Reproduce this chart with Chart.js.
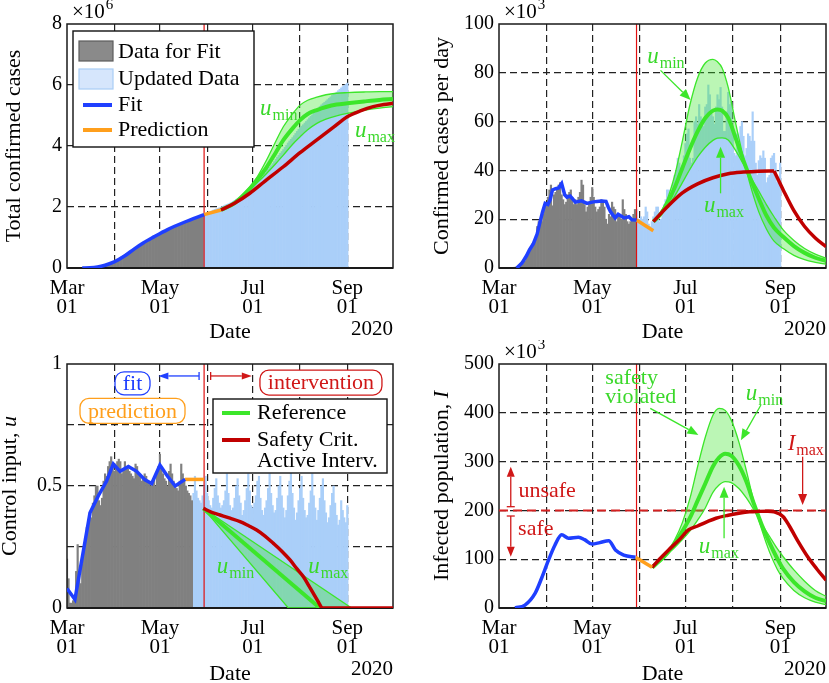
<!DOCTYPE html>
<html>
<head>
<meta charset="utf-8">
<title>Safety-critical intervention</title>
<script src="https://cdn.jsdelivr.net/npm/chart.js@4.4.1/dist/chart.umd.min.js"></script>
<style>
  body { margin: 0; background: #fff; }
  #wrap { position: relative; width: 829px; height: 683px; }
  canvas { position: absolute; }
</style>
</head>
<body>
<div id="wrap">
  <canvas id="totalChart" width="415" height="340" style="left:0;top:0"></canvas>
  <canvas id="dailyChart" width="414" height="340" style="left:415px;top:0"></canvas>
  <canvas id="controlChart" width="415" height="343" style="left:0;top:340px"></canvas>
  <canvas id="infectedChart" width="414" height="343" style="left:415px;top:340px"></canvas>
</div>
<script>
const FONT = "'Liberation Serif', 'Times New Roman', serif";
Chart.defaults.font.family = FONT;
Chart.defaults.color = '#000';

const GREEN = '#3ce62a';
const GREEN_TXT = '#3ad82a';
const GREEN_FILL = 'rgba(60, 230, 42, 0.35)';
const RED = '#c00000';
const RED_TXT = '#d01818';
const BLUE = '#1f3fff';
const ORANGE = '#ff9f1c';
const GRAY_BAR = '#808080';
const BLUE_BAR = '#aacff9';

// ---- data ----
// x axis = days after 2020-03-01
const monthStarts = [0, 31, 61, 92, 122, 153, 184];
const monthNames = ['Mar', 'Apr', 'May', 'Jun', 'Jul', 'Aug', 'Sep'];
const labelledMonths = ['Mar', 'May', 'Jul', 'Sep'];
const fitEndDay = 90;         // data for fit ends May 30
const controlFitEndDay = 83;  // control input data for fit ends May 23

// confirmed cases per day (x10^3), Mar 01 .. Sep 01
const dailyCases = [
  0, 0, 0, 0, 0, 0, 0.1, 0.1, 0.1, 0.2,
  0.3, 0.4, 0.5, 0.8, 1.0, 1.3, 1.8, 2.8,
  4.5, 5.6, 6.9, 8.0, 10.0, 11.0, 12.0, 17.0, 19.0, 19.5, 19.0, 22.0, 26.0,
  26.5, 29, 32, 34, 25.5, 30, 31, 32, 34, 35, 30, 28, 26, 27, 30,
  31, 32, 29, 26, 28, 26, 29, 31, 36, 34, 26, 23, 25, 27, 29,
  33, 29, 25, 23, 24, 25, 28, 27, 25, 20, 18, 22, 21, 27, 25,
  24, 19, 22, 21, 20, 28, 24, 22, 19, 18, 19, 20, 22, 24, 24,
  20, 20, 21, 20, 21, 25, 23, 18, 17, 19, 21, 23, 25, 25, 19, 20,
  23, 26, 28, 32, 32, 26, 30, 35, 38, 40, 45, 43, 41, 40, 46,
  51, 55, 57, 45, 43, 45, 60, 62, 59, 67, 62, 59, 58, 66, 67, 75,
  71, 63, 62, 59, 66, 71, 69, 74, 66, 56, 56, 64, 72, 67, 68,
  58, 47, 46, 55, 52, 58, 60, 54, 46, 49, 55, 54, 52, 64, 52, 43,
  38, 44, 46, 45, 48, 45, 35, 37, 38, 45, 46, 47, 43, 35, 35, 43
];

// control input u, Mar 01 .. Sep 01
const controlInput = [
  0.20, 0.12, 0.02, 0.02, 0.03, 0.05, 0.15,
  0.26, 0.13, 0.10, 0.18, 0.24, 0.28, 0.33,
  0.36, 0.39, 0.37, 0.43, 0.46, 0.50, 0.50,
  0.44, 0.42, 0.45, 0.52, 0.55, 0.54, 0.58,
  0.60, 0.62, 0.58, 0.56, 0.58, 0.60, 0.61,
  0.60, 0.55, 0.56, 0.60, 0.58, 0.57, 0.56,
  0.55, 0.54, 0.53, 0.59, 0.58, 0.55, 0.54,
  0.52, 0.53, 0.55, 0.54, 0.52, 0.51, 0.50,
  0.52, 0.53, 0.50, 0.55, 0.58, 0.63, 0.57,
  0.55, 0.53, 0.52, 0.50, 0.56, 0.59, 0.55,
  0.52, 0.50, 0.49, 0.48, 0.52, 0.59, 0.55,
  0.53, 0.50, 0.48, 0.47, 0.46, 0.44,
  0.47, 0.54, 0.48, 0.45, 0.44, 0.43, 0.46,
  0.50, 0.54, 0.47, 0.44, 0.42, 0.41, 0.45,
  0.49, 0.53, 0.46, 0.43, 0.41, 0.42, 0.44,
  0.48, 0.55, 0.47, 0.42, 0.40, 0.41, 0.45,
  0.50, 0.53, 0.46, 0.43, 0.38, 0.40, 0.44,
  0.49, 0.55, 0.48, 0.42, 0.41, 0.43, 0.46,
  0.52, 0.54, 0.45, 0.40, 0.38, 0.41, 0.44,
  0.49, 0.55, 0.47, 0.42, 0.39, 0.40, 0.45,
  0.50, 0.54, 0.46, 0.41, 0.37, 0.40, 0.46,
  0.52, 0.56, 0.47, 0.41, 0.36, 0.39, 0.44,
  0.49, 0.54, 0.45, 0.40, 0.37, 0.38, 0.43,
  0.48, 0.55, 0.46, 0.41, 0.36, 0.40, 0.45,
  0.50, 0.53, 0.44, 0.39, 0.35, 0.37, 0.42,
  0.47, 0.50, 0.43, 0.38, 0.34, 0.36, 0.44,
  0.40, 0.37, 0.35, 0.42
];

// panel 1: total confirmed cases (x10^6)
const totalFitDays = [10, 15, 20, 25, 31, 38, 44, 50, 57, 66, 77, 90];
const totalFit = [0, 0.005, 0.03, 0.09, 0.2, 0.4, 0.62, 0.82, 1.02, 1.26, 1.5, 1.75];
const totalPredDays = [90, 101];
const totalPred = [1.75, 1.9];
const totalRefDays = [101, 110, 120, 125, 131, 137, 142, 148, 153, 158, 164, 170, 177, 184, 195, 205, 214];
const totalUmin = [1.90, 2.15, 2.66, 3.0, 3.54, 4.15, 4.63, 5.05, 5.34, 5.5, 5.6, 5.68, 5.73, 5.75, 5.77, 5.78, 5.78];
const totalRef = [1.90, 2.13, 2.60, 2.9, 3.3, 3.78, 4.19, 4.57, 4.85, 5.05, 5.18, 5.28, 5.36, 5.40, 5.46, 5.51, 5.54];
const totalUmax = [1.90, 2.12, 2.56, 2.8, 3.1, 3.42, 3.70, 4.05, 4.30, 4.53, 4.74, 4.88, 4.99, 5.07, 5.17, 5.24, 5.29];
const totalSafeDays = [101, 110, 120, 130, 142, 153, 164, 175, 184, 193, 201, 208, 214];
const totalSafe = [1.90, 2.12, 2.45, 2.85, 3.32, 3.78, 4.20, 4.62, 4.96, 5.16, 5.29, 5.36, 5.40];

// panel 2: confirmed cases per day (x10^3)
const casesFitDays = [11.6, 15, 18, 20, 22.5, 25, 26.9, 28.5, 30.2, 32, 33.5, 35, 37, 39, 41, 43, 44.5,
  46.6, 50, 54, 57.6, 61, 64, 67, 70, 71.5, 73, 76, 78, 82, 85, 87, 90];
const casesFit = [0, 2, 5, 7.5, 10, 14, 19, 23, 26.5, 26, 28, 32, 32.5, 32.8, 34.6, 30, 29,
  29.5, 27, 27.5, 26.5, 27, 27.3, 27.5, 27.3, 25, 23, 20.5, 22, 20.5, 21, 19.8, 19.7];
const casesPredDays = [90, 101];
const casesPred = [19.7, 15.3];
const casesRefDays = [101, 105, 110, 115, 120, 125, 130, 135, 140, 143, 146, 150, 155, 160, 164, 170, 175, 180, 186, 193, 200, 207, 214];
const casesUmin = [19, 22, 28, 38, 52, 67, 78, 84, 85.5, 84.5, 82, 74, 59, 45, 35, 23, 16, 11, 8, 5.2, 3.4, 2.3, 1.5];
const casesRef = [19, 21.5, 26.5, 33, 41, 49, 56, 61.5, 64.5, 65, 64.5, 61.5, 53, 44, 37.5, 28.5, 21.5, 16.5, 12.8, 9, 6.2, 4.2, 2.9];
const casesUmax = [19, 21, 25, 29.5, 35, 40.5, 45.5, 49.5, 52.3, 53.2, 53.3, 52.5, 48, 42.5, 38, 31.5, 26, 21, 15.6, 11.3, 8, 5.7, 4];
const casesSafeDays = [101, 110, 120, 130, 140, 150, 160, 170, 180, 186, 193, 200, 207, 214];
const casesSafe = [19, 25, 30.8, 34.5, 37, 38.6, 39.3, 39.7, 39.8, 32, 23.5, 17, 12.3, 8.7];
const casesSafeKink = 8; // index where active intervention is released

// panel 3: control input u
const ctrlFitDays = [0, 5.2, 15.1, 20.6, 26, 30.4, 34.8, 40.3, 45.7, 51.2, 55.6, 61, 66, 71, 77.5];
const ctrlFit = [0.08, 0.035, 0.39, 0.46, 0.52, 0.59, 0.56, 0.58, 0.56, 0.525, 0.51, 0.586, 0.54, 0.50, 0.527];
const ctrlPredDays = [77.5, 90];
const ctrlPred = [0.527, 0.527];
const ctrlUminDays = [89.5, 145.3, 186.8];
const ctrlUmin = [0.408, 0, 0];
const ctrlUmaxDays = [89.5, 186.8];
const ctrlUmax = [0.408, 0];
const ctrlRefDays = [89.5, 166];
const ctrlRef = [0.408, 0];
const ctrlSafeDays = [89.5, 95, 100.5, 107, 113.6, 119, 124.5, 130, 135.5, 141, 146.4, 151, 155.2, 158.5, 161.7, 164.5, 167.2];
const ctrlSafe = [0.408, 0.392, 0.381, 0.368, 0.354, 0.338, 0.32, 0.295, 0.265, 0.233, 0.197, 0.16, 0.128, 0.094, 0.06, 0.03, 0];
const ctrlOffDays = [167.2, 214];
const ctrlOff = [0, 0];

// panel 4: infected population I (x10^3)
const infMax = 200;
const infFitDays = [10.5, 17, 23.6, 28, 32.4, 36.5, 41, 45.5, 52, 56, 60.8, 66, 71.8, 76.2, 81.6, 89.3];
const infFit = [0, 6, 30, 62, 98, 128, 150, 143, 145, 140, 131, 134, 138, 119, 108.6, 104];
const infPredDays = [89.3, 100.2];
const infPred = [104, 83.3];
const infRefDays = [100.2, 105, 110, 115, 120, 125, 130, 135, 140, 144, 148, 152, 157, 162, 167, 172, 177, 182, 186, 193, 200, 207, 214];
const infUmin = [83.3, 98, 115, 140, 175, 225, 290, 350, 395, 409, 405, 385, 340, 280, 215, 160, 115, 80, 60, 36, 21, 12, 7];
const infRef = [83.3, 96, 112, 132, 157, 185, 220, 255, 290, 308, 316, 312, 292, 258, 212, 170, 134, 102, 80, 53, 34, 21, 14];
const infUmax = [83.3, 95, 110, 124, 140, 158, 180, 205, 237, 252, 259, 257, 245, 225, 200, 172, 147, 122, 105, 78, 55, 36, 24];
const infSafeDays = [100.2, 105, 111, 118, 124, 130, 136, 142, 150, 157, 164, 170, 176, 180, 186, 190, 196, 202, 208, 214];
const infSafe = [83.3, 100, 119, 140, 160, 168, 176.5, 184, 190, 194, 197, 198, 198.5, 197, 187, 168, 135, 105, 80, 57];

// ---- helpers ----
function runningTotal(arr) {
  let sum = 0;
  return arr.map(v => (sum += v) / 1000);
}
const pts = (xs, ys) => xs.map((x, i) => ({ x: x, y: ys[i] }));

function barSet(vals, firstDay, color, order) {
  return {
    type: 'bar', data: vals.map((v, i) => ({ x: firstDay + i, y: v })),
    backgroundColor: color, borderWidth: 0, barPercentage: 1, categoryPercentage: 1,
    grouped: false, order: order
  };
}
function lineSet(xs, ys, color, width, order, extra) {
  return Object.assign({
    type: 'line', data: pts(xs, ys), borderColor: color, borderWidth: width,
    pointRadius: 0, fill: false, tension: 0, order: order, borderCapStyle: 'butt'
  }, extra || {});
}
const smooth = { cubicInterpolationMode: 'monotone' };
function fitEndLine(top) {
  return lineSet([fitEndDay, fitEndDay], [0, top], '#e01010', 1.2, 20, { boxAfter: true });
}
function envelope(days, umin, ref, umax) {
  return [
    lineSet(days, umin, GREEN, 1.3, 12, Object.assign({ fill: '+1', backgroundColor: GREEN_FILL }, smooth)),
    lineSet(days, umax, GREEN, 1.3, 11, smooth),
    lineSet(days, ref, GREEN, 4, 10, smooth)
  ];
}

const X = (c, d) => c.scales.x.getPixelForValue(d);
const Y = (c, v) => c.scales.y.getPixelForValue(v);

function frame(chart) {
  const a = chart.chartArea, ctx = chart.ctx;
  ctx.save();
  ctx.strokeStyle = '#1a1a1a';
  ctx.lineWidth = 1.5;
  ctx.strokeRect(a.left, a.top, a.right - a.left, a.bottom - a.top);
  ctx.lineWidth = 2;
  ctx.beginPath(); ctx.moveTo(a.left, a.bottom); ctx.lineTo(a.right, a.bottom); ctx.stroke();
  ctx.restore();
}

function text(ctx, s, x, y, color, font, align, base) {
  ctx.save();
  ctx.fillStyle = color;
  ctx.font = font || ('22px ' + FONT);
  ctx.textAlign = align || 'left';
  ctx.textBaseline = base || 'alphabetic';
  ctx.fillText(s, x, y);
  ctx.restore();
}

function subLabel(ctx, x, y, base, sub, color) {
  ctx.save();
  ctx.fillStyle = color;
  ctx.textBaseline = 'alphabetic';
  ctx.font = 'italic 23px ' + FONT;
  ctx.fillText(base, x, y);
  const w = ctx.measureText(base).width;
  ctx.font = '16px ' + FONT;
  ctx.fillText(sub, x + w + 1, y + 5);
  ctx.restore();
}

function arrow(ctx, x1, y1, x2, y2, color, o) {
  o = o || {};
  const head = o.head || 10, hw = o.hw || 4;
  const ang = Math.atan2(y2 - y1, x2 - x1);
  const c = Math.cos(ang), s = Math.sin(ang);
  ctx.save();
  ctx.strokeStyle = color; ctx.fillStyle = color; ctx.lineWidth = o.lw || 1.3;
  ctx.beginPath(); ctx.moveTo(x1, y1); ctx.lineTo(x2 - head * c, y2 - head * s); ctx.stroke();
  ctx.beginPath();
  ctx.moveTo(x2, y2);
  ctx.lineTo(x2 - head * c + hw * s, y2 - head * s - hw * c);
  ctx.lineTo(x2 - head * c - hw * s, y2 - head * s + hw * c);
  ctx.closePath(); ctx.fill();
  if (o.bar) {
    ctx.beginPath();
    ctx.moveTo(x1 + o.bar * s, y1 - o.bar * c);
    ctx.lineTo(x1 - o.bar * s, y1 + o.bar * c);
    ctx.stroke();
  }
  ctx.restore();
}

function tagBox(ctx, cx, cy, w, h, label, color) {
  ctx.save();
  ctx.strokeStyle = color; ctx.lineWidth = 1.3; ctx.fillStyle = '#fff';
  ctx.beginPath(); ctx.roundRect(cx - w / 2, cy - h / 2, w, h, 9); ctx.fill(); ctx.stroke();
  ctx.restore();
  text(ctx, label, cx, cy + 1, color, '22px ' + FONT, 'center', 'middle');
}

function legendFrame(ctx, x, y, w, h) {
  ctx.save();
  ctx.fillStyle = '#fff'; ctx.strokeStyle = '#111'; ctx.lineWidth = 1.4;
  ctx.fillRect(x, y, w, h); ctx.strokeRect(x, y, w, h);
  ctx.restore();
}
function legendLine(ctx, x1, x2, y, color) {
  ctx.save();
  ctx.strokeStyle = color; ctx.lineWidth = 4;
  ctx.beginPath(); ctx.moveTo(x1, y); ctx.lineTo(x2, y); ctx.stroke();
  ctx.restore();
}

function expLabel(ctx, a, exp) {
  ctx.save();
  ctx.fillStyle = '#000';
  ctx.font = '21px ' + FONT;
  ctx.fillText('\u00d710', a.left + 5, 18);
  const w = ctx.measureText('\u00d710').width;
  ctx.font = '15px ' + FONT;
  ctx.fillText(exp, a.left + 6 + w, 9);
  ctx.restore();
}
function yearLabel(ctx, a) {
  text(ctx, '2020', a.right, a.bottom + 67, '#000', '21px ' + FONT, 'right');
}
function yTitle(ctx, x, cy, parts) {
  ctx.save();
  ctx.translate(x, cy);
  ctx.rotate(-Math.PI / 2);
  ctx.fillStyle = '#000';
  ctx.textBaseline = 'middle';
  let total = 0;
  parts.forEach(p => { ctx.font = p[1] + ' ' + FONT; total += ctx.measureText(p[0]).width; });
  let cur = -total / 2;
  parts.forEach(p => { ctx.font = p[1] + ' ' + FONT; ctx.fillText(p[0], cur, 0); cur += ctx.measureText(p[0]).width; });
  ctx.restore();
}

function decor(inside, outside) {
  return {
    id: 'decor',
    afterDatasetDraw(chart, args) {
      if (chart.data.datasets[args.index].boxAfter) frame(chart);
    },
    afterDatasetsDraw(chart) { if (inside) inside(chart.ctx, chart, chart.chartArea); },
    afterDraw(chart) { if (outside) outside(chart.ctx, chart, chart.chartArea); }
  };
}

function xAxis(bottomH, titleDrop) {
  return {
    type: 'linear', min: 0, max: 214, offset: false,
    afterBuildTicks: s => { s.ticks = monthStarts.map(v => ({ value: v })); },
    ticks: {
      autoSkip: false, maxRotation: 0, minRotation: 0, padding: 11, color: '#000',
      font: { size: 21, lineHeight: 0.9 },
      callback: v => {
        const i = monthStarts.indexOf(v);
        return i >= 0 && labelledMonths.includes(monthNames[i]) ? [monthNames[i], '01'] : '';
      }
    },
    grid: {
      offset: false, drawTicks: false, lineWidth: 1.2,
      color: c => (c.tick && c.tick.value === 0) ? 'rgba(0,0,0,0)' : '#222'
    },
    border: { display: false, dash: [7, 4] },
    title: { display: true, text: 'Date', color: '#000', font: { size: 22 }, padding: { top: 0, bottom: -titleDrop } },
    afterFit: s => { s.height = bottomH; }
  };
}
function yAxis(o) {
  return {
    type: 'linear', min: o.min, max: o.max,
    ticks: {
      stepSize: o.step, padding: 5, color: '#000', font: { size: 20 },
      callback: o.tickLabel || (v => v)
    },
    grid: {
      drawTicks: false, lineWidth: 1.2,
      color: c => (c.tick && (c.tick.value === o.min || c.tick.value === o.max)) ? 'rgba(0,0,0,0)' : '#222'
    },
    border: { display: false, dash: [7, 4] },
    title: o.title
      ? { display: true, text: o.title, color: '#000', font: { size: 22 }, padding: { top: o.titlePad, bottom: 0 } }
      : { display: false },
    afterFit: s => { s.width = o.left; }
  };
}

function makeChart(id, o) {
  return new Chart(document.getElementById(id), {
    type: 'line',
    data: { datasets: o.datasets },
    options: {
      responsive: false, animation: false, events: [],
      layout: { padding: { top: 24, right: o.right, left: 0, bottom: 0 } },
      plugins: { legend: { display: false }, tooltip: { enabled: false } },
      scales: { x: xAxis(o.bottom, o.titleDrop), y: yAxis(o) }
    },
    plugins: [decor(o.inside, o.outside)]
  });
}

// ---- panel 1: total confirmed cases ----
const totalCases = runningTotal(dailyCases);
makeChart('totalChart', {
  left: 67, right: 22, bottom: 72, titleDrop: 5,
  min: 0, max: 8, step: 2, title: 'Total confirmed cases', titlePad: 1,
  datasets: [
    barSet(totalCases.slice(0, fitEndDay), 0, GRAY_BAR, 29),
    barSet(totalCases.slice(fitEndDay), fitEndDay, BLUE_BAR, 30),
    fitEndLine(8),
    ...envelope(totalRefDays, totalUmin, totalRef, totalUmax),
    lineSet(totalSafeDays, totalSafe, RED, 3.5, 5, smooth),
    lineSet(totalPredDays, totalPred, ORANGE, 3.5, 4),
    lineSet(totalFitDays, totalFit, BLUE, 3.5, 3, smooth)
  ],
  inside(ctx, c, a) {
    legendFrame(ctx, a.left + 6, a.top + 7, 181, 116);
    ctx.save();
    ctx.fillStyle = '#8a8a8a'; ctx.strokeStyle = '#5c5c5c'; ctx.lineWidth = 1.2;
    ctx.fillRect(a.left + 12, a.top + 17, 34, 20); ctx.strokeRect(a.left + 12, a.top + 17, 34, 20);
    ctx.fillStyle = '#d6e6fc'; ctx.strokeStyle = '#a8cdf6';
    ctx.fillRect(a.left + 12, a.top + 45, 34, 20); ctx.strokeRect(a.left + 12, a.top + 45, 34, 20);
    ctx.restore();
    legendLine(ctx, a.left + 16, a.left + 45, a.top + 81, BLUE);
    legendLine(ctx, a.left + 16, a.left + 45, a.top + 106, ORANGE);
    const f = '22px ' + FONT;
    text(ctx, 'Data for Fit', a.left + 51, a.top + 28, '#000', f, 'left', 'middle');
    text(ctx, 'Updated Data', a.left + 51, a.top + 55, '#000', f, 'left', 'middle');
    text(ctx, 'Fit', a.left + 51, a.top + 81, '#000', f, 'left', 'middle');
    text(ctx, 'Prediction', a.left + 51, a.top + 106, '#000', f, 'left', 'middle');
    subLabel(ctx, X(c, 126.7), Y(c, 5.02), 'u', 'min', GREEN_TXT);
    subLabel(ctx, X(c, 189), Y(c, 4.3), 'u', 'max', GREEN_TXT);
  },
  outside(ctx, c, a) { expLabel(ctx, a, '6'); yearLabel(ctx, a); }
});

// ---- panel 2: confirmed cases per day ----
makeChart('dailyChart', {
  left: 84, right: 3, bottom: 72, titleDrop: 5,
  min: 0, max: 100, step: 20, title: 'Confirmed cases per day', titlePad: 14.4,
  datasets: [
    barSet(dailyCases.slice(0, fitEndDay), 0, GRAY_BAR, 29),
    barSet(dailyCases.slice(fitEndDay), fitEndDay, BLUE_BAR, 30),
    fitEndLine(100),
    ...envelope(casesRefDays, casesUmin, casesRef, casesUmax),
    lineSet(casesSafeDays.slice(0, casesSafeKink + 1), casesSafe.slice(0, casesSafeKink + 1), RED, 3.5, 5, smooth),
    lineSet(casesSafeDays.slice(casesSafeKink), casesSafe.slice(casesSafeKink), RED, 3.5, 5, smooth),
    lineSet(casesPredDays, casesPred, ORANGE, 3.5, 4),
    lineSet(casesFitDays, casesFit, BLUE, 3.5, 3)
  ],
  inside(ctx, c, a) {
    subLabel(ctx, X(c, 97), Y(c, 83.9), 'u', 'min', GREEN_TXT);
    arrow(ctx, X(c, 105.7), Y(c, 81), X(c, 125.4), Y(c, 68.9), GREEN, { head: 11, hw: 4.5 });
    subLabel(ctx, X(c, 134.1), Y(c, 23), 'u', 'max', GREEN_TXT);
    arrow(ctx, X(c, 145), Y(c, 30.6), X(c, 145), Y(c, 49.7), GREEN, { head: 11, hw: 4.5 });
  },
  outside(ctx, c, a) { expLabel(ctx, a, '3'); yearLabel(ctx, a); }
});

// ---- panel 3: control input ----
makeChart('controlChart', {
  left: 67, right: 22, bottom: 75, titleDrop: 4,
  min: 0, max: 1, step: 0.25,
  tickLabel: v => (v === 0 || v === 0.5 || v === 1) ? String(v) : '',
  datasets: [
    barSet(controlInput.slice(0, controlFitEndDay), 0, GRAY_BAR, 29),
    barSet(controlInput.slice(controlFitEndDay), controlFitEndDay, BLUE_BAR, 30),
    fitEndLine(1),
    lineSet(ctrlUminDays, ctrlUmin, GREEN, 1.3, 12, { fill: '+1', backgroundColor: GREEN_FILL }),
    lineSet(ctrlUmaxDays, ctrlUmax, GREEN, 1.3, 11),
    lineSet(ctrlRefDays, ctrlRef, GREEN, 4, 10),
    lineSet(ctrlSafeDays, ctrlSafe, RED, 3.5, 5, smooth),
    lineSet(ctrlOffDays, ctrlOff, RED, 3.5, 5),
    lineSet(ctrlPredDays, ctrlPred, ORANGE, 3.5, 4),
    lineSet(ctrlFitDays, ctrlFit, BLUE, 3.5, 3)
  ],
  inside(ctx, c, a) {
    tagBox(ctx, X(c, 43), Y(c, 0.921), 35, 23, 'fit', BLUE);
    tagBox(ctx, X(c, 43), Y(c, 0.808), 105, 25, 'prediction', ORANGE);
    tagBox(ctx, X(c, 166.7), Y(c, 0.924), 122, 25, 'intervention', RED_TXT);
    arrow(ctx, X(c, 86.7), Y(c, 0.951), X(c, 60), Y(c, 0.951), BLUE, { head: 10, hw: 3.5, bar: 4 });
    arrow(ctx, X(c, 94.3), Y(c, 0.951), X(c, 121.3), Y(c, 0.951), RED_TXT, { head: 10, hw: 3.5, bar: 4 });
    legendFrame(ctx, a.left + 146, a.top + 35, 174, 74);
    legendLine(ctx, a.left + 155, a.left + 183, a.top + 49, GREEN);
    legendLine(ctx, a.left + 155, a.left + 183, a.top + 76, RED);
    const f = '22px ' + FONT;
    text(ctx, 'Reference', a.left + 190, a.top + 49, '#000', f, 'left', 'middle');
    text(ctx, 'Safety Crit.', a.left + 190, a.top + 76, '#000', f, 'left', 'middle');
    text(ctx, 'Active Interv.', a.left + 190, a.top + 97, '#000', f, 'left', 'middle');
    subLabel(ctx, X(c, 98.3), Y(c, 0.142), 'u', 'min', GREEN_TXT);
    subLabel(ctx, X(c, 158.4), Y(c, 0.142), 'u', 'max', GREEN_TXT);
  },
  outside(ctx, c, a) {
    yearLabel(ctx, a);
    yTitle(ctx, 10.3, (a.top + a.bottom) / 2, [['Control input, ', '22px'], ['u', 'italic 22px']]);
  }
});

// ---- panel 4: infected population ----
makeChart('infectedChart', {
  left: 84, right: 3, bottom: 75, titleDrop: 4,
  min: 0, max: 500, step: 100,
  datasets: [
    fitEndLine(500),
    lineSet([0, 214], [infMax, infMax], '#d42020', 2, 15, { borderDash: [9, 5] }),
    ...envelope(infRefDays, infUmin, infRef, infUmax),
    lineSet(infSafeDays, infSafe, RED, 3.5, 5, smooth),
    lineSet(infPredDays, infPred, ORANGE, 3.5, 4),
    lineSet(infFitDays, infFit, BLUE, 3.5, 3, smooth)
  ],
  inside(ctx, c, a) {
    const f = '22px ' + FONT;
    text(ctx, 'safety', X(c, 69.6), Y(c, 458), GREEN_TXT, f);
    text(ctx, 'violated', X(c, 69.6), Y(c, 419.5), GREEN_TXT, f);
    arrow(ctx, X(c, 99), Y(c, 409), X(c, 130.5), Y(c, 354.5), GREEN, { head: 11, hw: 4.5 });
    subLabel(ctx, X(c, 161.5), Y(c, 426), 'u', 'min', GREEN_TXT);
    arrow(ctx, X(c, 171.4), Y(c, 416), X(c, 158.3), Y(c, 344), GREEN, { head: 11, hw: 4.5 });
    subLabel(ctx, X(c, 130.8), Y(c, 112), 'u', 'max', GREEN_TXT);
    arrow(ctx, X(c, 147.3), Y(c, 143), X(c, 147.3), Y(c, 248.6), GREEN, { head: 11, hw: 4.5 });
    subLabel(ctx, X(c, 188.9), Y(c, 323.8), 'I', 'max', RED_TXT);
    arrow(ctx, X(c, 198.7), Y(c, 310), X(c, 198.7), Y(c, 211), RED_TXT, { head: 11, hw: 4.5 });
    text(ctx, 'unsafe', X(c, 12.7), Y(c, 228), RED_TXT, f);
    text(ctx, 'safe', X(c, 12.5), Y(c, 149.6), RED_TXT, f);
    arrow(ctx, X(c, 7.7), Y(c, 207.6), X(c, 7.7), Y(c, 289.5), RED_TXT, { head: 10, hw: 4, bar: 4 });
    arrow(ctx, X(c, 7.7), Y(c, 188.5), X(c, 7.7), Y(c, 105), RED_TXT, { head: 10, hw: 4, bar: 4 });
  },
  outside(ctx, c, a) {
    expLabel(ctx, a, '3');
    yearLabel(ctx, a);
    yTitle(ctx, 27, (a.top + a.bottom) / 2, [['Infected population, ', '22px'], ['I', 'italic 22px']]);
  }
});
</script>
</body>
</html>
